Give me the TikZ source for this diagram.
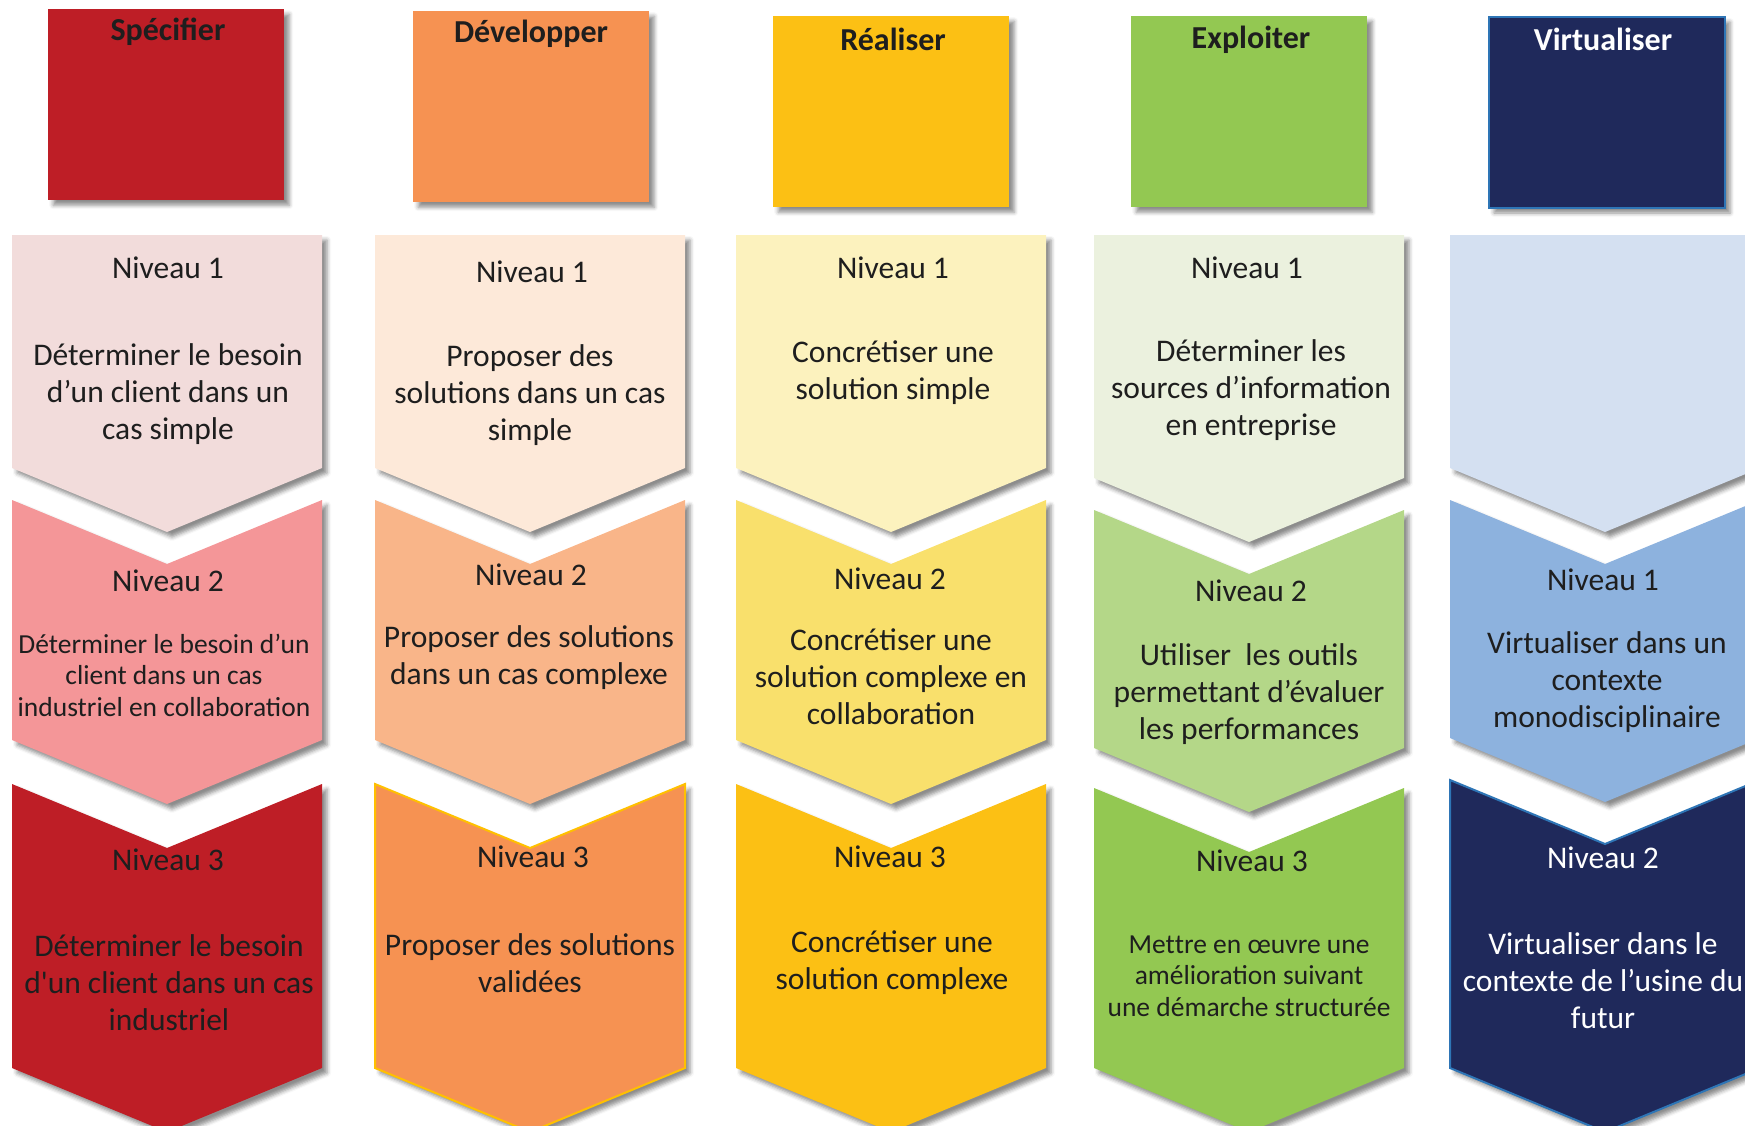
\documentclass[tikz,border=0pt]{standalone}
\usepackage{fontspec}
\setmainfont{Carlito}
\usepackage{xcolor}
\usetikzlibrary{shadows.blur}

\definecolor{ink}{RGB}{30,30,30}
\definecolor{specred}{RGB}{190,30,38}
\definecolor{specpale}{RGB}{242,220,219}
\definecolor{specmid}{RGB}{244,150,152}
\definecolor{devorange}{RGB}{246,146,82}
\definecolor{devpale}{RGB}{253,233,217}
\definecolor{devmid}{RGB}{249,181,137}
\definecolor{goldline}{RGB}{255,192,0}
\definecolor{realgold}{RGB}{252,192,20}
\definecolor{realpale}{RGB}{252,242,190}
\definecolor{realmid}{RGB}{249,224,108}
\definecolor{explgreen}{RGB}{147,200,82}
\definecolor{explpale}{RGB}{235,241,222}
\definecolor{explmid}{RGB}{180,215,136}
\definecolor{virtnavy}{RGB}{31,41,91}
\definecolor{virtpale}{RGB}{212,224,241}
\definecolor{virtmid}{RGB}{141,178,222}
\definecolor{virtline}{RGB}{46,117,182}

\begin{document}
\begin{tikzpicture}[x=1pt,y=-1pt,
		soft shadow/.style={blur shadow={shadow xshift=5pt,shadow yshift=-5pt,shadow blur radius=4pt,shadow opacity=45}},
		head box/.style={soft shadow,minimum width=236pt,minimum height=191pt,anchor=north west,inner sep=0pt},
		head/.style={font=\fontsize{32}{38}\selectfont\bfseries,text=ink},
		niv/.style={font=\fontsize{31.5}{37}\selectfont,text=ink},
		txt/.style={font=\fontsize{31.5}{37}\selectfont,text=ink,align=center},
		small/.style={font=\fontsize{27.5}{31.5}\selectfont}]
			\def\w{155};
			\def\d{64};
			% chevron with a flat top, and chevron with a notch
			\def\tip#1#2#3#4{\path[soft shadow,#4] (#1-\w,#2) -- (#1+\w,#2) -- (#1+\w,#3) -- (#1,#3+\d) -- (#1-\w,#3) -- cycle;}
			\def\chev#1#2#3#4{\path[soft shadow,#4] (#1-\w,#2) -- (#1,#2+\d) -- (#1+\w,#2) -- (#1+\w,#3) -- (#1,#3+\d) -- (#1-\w,#3) -- cycle;}

			\useasboundingbox (0,0) rectangle (1745,1125);
			\clip (0,0) rectangle (1745,1125);

			% headers
			\node[head box,fill=specred] (spec) at (48,9) {};
			\node[head box,fill=devorange] (dev) at (413,11) {};
			\node[head box,fill=realgold] (real) at (773,16) {};
			\node[head box,fill=explgreen] (expl) at (1131,16) {};
			\node[head box,fill=virtnavy,draw=virtline,line width=2pt] (virt) at (1488,16) {};
			\node[head] (spec-t) at (168,32) {Spécifier};
			\node[head] (dev-t) at (531,34) {Développer};
			\node[head] (real-t) at (893,39) {Réaliser};
			\node[head] (expl-t) at (1251,40) {Exploiter};
			\node[head,text=white] (virt-t) at (1603,39) {Virtualiser};

			% Specifier
			\begin{scope}
				\tip{167}{235}{468}{fill=specpale}
				\chev{167}{500}{740}{fill=specmid}
				\chev{167}{784}{1068}{fill=specred}
				\node[niv] (spec-n1) at (168,268) {Niveau 1};
				\node[txt] (spec-b1) at (168,394) {Déterminer le besoin\\d’un client dans un\\cas simple};
				\node[niv] (spec-n2) at (168,581) {Niveau 2};
				\node[txt,small] (spec-b2) at (164,675) {Déterminer le besoin d’un\\client dans un cas\\industriel en collaboration};
				\node[niv] (spec-n3) at (168,860) {Niveau 3};
				\node[txt] (spec-b3) at (169,983) {Déterminer le besoin\\d\textquotesingle un client dans un cas\\industriel};
			\end{scope}

			% Developper
			\begin{scope}
				\tip{530}{235}{468}{fill=devpale}
				\chev{530}{500}{740}{fill=devmid}
				\chev{530}{784}{1068}{fill=devorange,draw=goldline,line width=2pt}
				\node[niv] (dev-n1) at (532,272) {Niveau 1};
				\node[txt] (dev-b1) at (530,395) {Proposer des\\solutions dans un cas\\simple};
				\node[niv] (dev-n2) at (531,575) {Niveau 2};
				\node[txt] (dev-b2) at (529,658) {Proposer des solutions\\dans un cas complexe};
				\node[niv] (dev-n3) at (533,857) {Niveau 3};
				\node[txt] (dev-b3) at (530,963) {Proposer des solutions\\validées};
			\end{scope}

			% Realiser
			\begin{scope}
				\tip{891}{235}{468}{fill=realpale}
				\chev{891}{500}{740}{fill=realmid}
				\chev{891}{784}{1068}{fill=realgold}
				\node[niv] (real-n1) at (893,268) {Niveau 1};
				\node[txt] (real-b1) at (893,373) {Concrétiser une\\solution simple};
				\node[niv] (real-n2) at (890,579) {Niveau 2};
				\node[txt] (real-b2) at (891,677) {Concrétiser une\\solution complexe en\\collaboration};
				\node[niv] (real-n3) at (890,857) {Niveau 3};
				\node[txt] (real-b3) at (892,963) {Concrétiser une\\solution complexe};
			\end{scope}

			% Exploiter
			\begin{scope}
				\tip{1249}{235}{478}{fill=explpale}
				\chev{1249}{510}{748}{fill=explmid}
				\chev{1249}{788}{1068}{fill=explgreen}
				\node[niv] (expl-n1) at (1247,268) {Niveau 1};
				\node[txt] (expl-b1) at (1251,390) {Déterminer les\\sources d’information\\en entreprise};
				\node[niv] (expl-n2) at (1251,591) {Niveau 2};
				\node[txt] (expl-b2) at (1249,694) {Utiliser~ les outils\\permet\kern0pt tant d’évaluer\\les performances};
				\node[niv] (expl-n3) at (1252,861) {Niveau 3};
				\node[txt,small] (expl-b3) at (1249,976) {Met\kern0pt tre en œuvre une\\amélioration suivant\\une démarche structurée};
			\end{scope}

			% Virtualiser
			\begin{scope}
				\tip{1605}{235}{468}{fill=virtpale}
				\chev{1605}{500}{738}{fill=virtmid}
				\chev{1605}{780}{1068}{fill=virtnavy,draw=virtline,line width=2pt}
				\node[niv] (virt-n1) at (1603,580) {Niveau 1};
				\node[txt] (virt-b1) at (1607,682) {Virtualiser dans un\\contexte\\monodisciplinaire};
				\node[niv,text=white] (virt-n2) at (1603,858) {Niveau 2};
				\node[txt,text=white] (virt-b2) at (1603,981) {Virtualiser dans le\\contexte de l’usine du\\futur};
			\end{scope}
		\end{tikzpicture}
\end{document}
